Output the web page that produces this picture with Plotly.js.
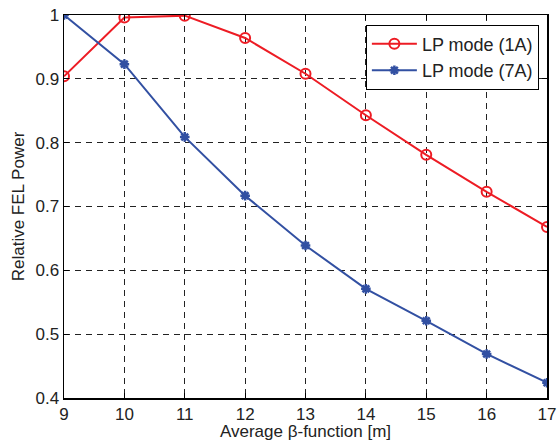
<!DOCTYPE html>
<html><head><meta charset="utf-8">
<script src="https://cdn.plot.ly/plotly-3.0.1.min.js"></script>
<style>body{margin:0;background:#fff}#c{width:557px;height:441px}</style>
</head><body><div id="c"></div>
<script>
const beta = [9, 10, 11, 12, 13, 14, 15, 16, 17];
const power1A = [0.904, 0.996, 0.999, 0.964, 0.908, 0.843, 0.781, 0.723, 0.668];
const power7A = [1.0, 0.923, 0.809, 0.717, 0.639, 0.571, 0.521, 0.469, 0.424];
const xTicks = [9, 10, 11, 12, 13, 14, 15, 16, 17];
const yTicks = [0.4, 0.5, 0.6, 0.7, 0.8, 0.9, 1];
const yTickText = ['0.4', '0.5', '0.6', '0.7', '0.8', '0.9', '1'];

const FONT = 'Liberation Sans, Arial, sans-serif';
const red = 'rgb(237,28,36)', blue = 'rgb(50,80,162)';
const traces = [
  {x: beta, y: power1A, name: 'LP mode (1A)', mode: 'lines+markers',
   line: {color: red, width: 2},
   marker: {symbol: 'circle-open', size: 10, color: red, line: {width: 2, color: red}}},
  {x: beta, y: power7A, name: 'LP mode (7A)', mode: 'lines+markers',
   line: {color: blue, width: 2},
   marker: {symbol: 'asterisk-open', size: 8, color: blue, line: {width: 2.5, color: blue}}}
];
const axisCommon = {
  showline: true, linecolor: '#000', linewidth: 1.5, mirror: 'ticks',
  ticks: 'inside', ticklen: 5, tickcolor: '#000',
  showgrid: true, gridcolor: '#222', griddash: '6px,5px', gridwidth: 1,
  zeroline: false, tickfont: {family: FONT, size: 17, color: '#222'}
};
const layout = {
  width: 557, height: 441,
  margin: {l: 64, r: 10, t: 15, b: 43},
  paper_bgcolor: '#fff', plot_bgcolor: '#fff',
  showlegend: true,
  xaxis: Object.assign({}, axisCommon, {range: [9, 17], tickvals: xTicks,
    title: {text: 'Average β-function [m]', standoff: 2,
      font: {family: FONT, size: 17, color: '#222'}}}),
  yaxis: Object.assign({}, axisCommon, {range: [0.4, 1], tickvals: yTicks, ticktext: yTickText,
    title: {text: 'Relative FEL Power', standoff: 6,
      font: {family: FONT, size: 17, color: '#222'}}}),
  legend: {x: 0.625, y: 0.975, xanchor: 'left', yanchor: 'top',
    bgcolor: '#fff', bordercolor: '#000', borderwidth: 1,
    font: {family: FONT, size: 18, color: '#222'},
    itemwidth: 45, tracegroupgap: 0}
};
Plotly.newPlot('c', traces, layout, {displayModeBar: false, staticPlot: true});
</script></body></html>
